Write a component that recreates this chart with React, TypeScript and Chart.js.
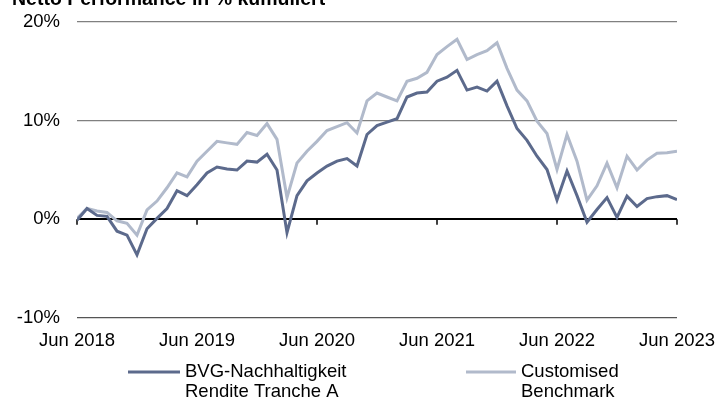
import React, { useEffect, useRef } from "react";
import { Chart, registerables } from "chart.js";

Chart.register(...registerables);

const titleText = "Netto Performance in % kumuliert";
const tickLabels = ["Jun 2018", "Jun 2019", "Jun 2020", "Jun 2021", "Jun 2022", "Jun 2023"];
const yTicks = [-10, 0, 10, 20];
const fundLabel = ["BVG-Nachhaltigkeit", "Rendite Tranche A"];
const benchLabel = ["Customised", "Benchmark"];

// monthly cumulative net performance in %, Jun 2018 .. Jun 2023
const fundReturns = [
  -0.1, 1.1, 0.4, 0.3, -1.2, -1.6, -3.6, -0.95, 0.1, 1.1, 2.9, 2.4,
  3.5, 4.7, 5.3, 5.1, 5.0, 5.9, 5.8, 6.6, 5.0, -1.35, 2.4, 3.9,
  4.7, 5.4, 5.9, 6.15, 5.4, 8.6, 9.5, 9.85, 10.2, 12.4, 12.8, 12.9,
  14.0, 14.4, 15.1, 13.1, 13.4, 13.0, 14.0, 11.5, 9.2, 8.0, 6.4, 5.05,
  1.95, 4.9, 2.4, -0.3, 1.0, 2.2, 0.2, 2.35, 1.3, 2.1, 2.3, 2.4,
  2.0,
];
const benchmarkReturns = [
  0.1, 1.1, 0.85, 0.7, -0.15, -0.4, -1.6, 0.95, 1.85, 3.2, 4.7, 4.3,
  5.9, 6.9, 7.9, 7.75, 7.6, 8.8, 8.5, 9.7, 8.1, 2.2, 5.7, 6.9,
  7.9, 9.0, 9.4, 9.8, 8.75, 12.0, 12.8, 12.4, 12.0, 14.0, 14.3, 14.9,
  16.7, 17.5, 18.25, 16.2, 16.7, 17.1, 17.9, 15.3, 13.1, 12.0, 9.95, 8.7,
  5.05, 8.6, 5.9, 1.95, 3.4, 5.7, 3.2, 6.4, 5.0, 6.0, 6.7, 6.75,
  6.9,
];

const FONT = '"Liberation Sans", Arial, sans-serif';
const DARK = "#5c6a8c";
const LIGHT = "#b1bacb";

const decorPlugin = {
  id: "decor",
  beforeDatasetsDraw(chart: any) {
    const { ctx, scales } = chart;
    const xs = scales.x;
    const y0 = scales.y.getPixelForValue(0);
    ctx.save();
    ctx.strokeStyle = "#000";
    ctx.lineWidth = 1.5;
    for (let i = 0; i < tickLabels.length; i++) {
      const px = xs.getPixelForValue(i * 12);
      ctx.beginPath();
      ctx.moveTo(px, y0);
      ctx.lineTo(px, y0 + 5.5);
      ctx.stroke();
    }
    ctx.restore();
  },
  afterDraw(chart: any) {
    const { ctx } = chart;
    ctx.save();
    // title
    ctx.fillStyle = "#000";
    ctx.font = `bold 19.5px ${FONT}`;
    ctx.textBaseline = "alphabetic";
    ctx.textAlign = "left";
    ctx.fillText(titleText, 12, 5);
    // legend
    const items = [
      { x0: 128, x1: 180, tx: 185, color: DARK, lines: fundLabel },
      { x0: 466, x1: 516, tx: 521, color: LIGHT, lines: benchLabel },
    ];
    ctx.font = `18.5px ${FONT}`;
    ctx.textBaseline = "middle";
    items.forEach((it) => {
      ctx.strokeStyle = it.color;
      ctx.lineWidth = 3;
      ctx.beginPath();
      ctx.moveTo(it.x0, 372);
      ctx.lineTo(it.x1, 372);
      ctx.stroke();
      ctx.fillStyle = "#000";
      it.lines.forEach((t, i) => ctx.fillText(t, it.tx, 372 + i * 20));
    });
    ctx.restore();
  },
};

export default function App() {
  const ref = useRef<HTMLCanvasElement>(null);
  useEffect(() => {
    document.body.style.margin = "0";
    const chart = new Chart(ref.current as HTMLCanvasElement, {
      type: "line",
      data: {
        datasets: [
          {
            label: fundLabel.join(" "),
            data: fundReturns.map((v, i) => ({ x: i, y: v })),
            borderColor: DARK,
            borderWidth: 3,
            pointRadius: 0,
            tension: 0,
            borderJoinStyle: "miter",
          },
          {
            label: benchLabel.join(" "),
            data: benchmarkReturns.map((v, i) => ({ x: i, y: v })),
            borderColor: LIGHT,
            borderWidth: 3,
            pointRadius: 0,
            tension: 0,
            borderJoinStyle: "miter",
          },
        ],
      },
      options: {
        animation: false,
        responsive: false,
        maintainAspectRatio: false,
        layout: { padding: { top: 22, left: 0, right: 0, bottom: 0 } },
        plugins: { legend: { display: false }, tooltip: { enabled: false }, title: { display: false } },
        scales: {
          x: {
            type: "linear",
            min: 0,
            max: 60,
            afterBuildTicks: (s: any) => {
              s.ticks = tickLabels.map((_, i) => ({ value: i * 12 }));
            },
            ticks: {
              autoSkip: false,
              maxRotation: 0,
              padding: 12,
              color: "#000",
              font: { family: FONT, size: 18.5 },
              callback: (v: any) => tickLabels[Math.round(v / 12)] ?? "",
            },
            grid: { display: false, drawTicks: false },
            border: { display: false },
            afterFit: (s: any) => {
              s.height = 82;
              s.paddingLeft = 0;
              s.paddingRight = 38;
            },
          },
          y: {
            min: -10,
            max: 20,
            afterBuildTicks: (s: any) => {
              s.ticks = yTicks.map((v) => ({ value: v }));
            },
            ticks: {
              padding: 17,
              color: "#000",
              font: { family: FONT, size: 18.5 },
              callback: (v: any) => `${v}%`,
            },
            grid: {
              drawTicks: false,
              color: (c: any) => (c.tick && c.tick.value === 0 ? "#000" : c.tick && c.tick.value === -10 ? "#555" : "#808080"),
              lineWidth: (c: any) => (c.tick && c.tick.value === 0 ? 2 : 1.3),
            },
            border: { display: false },
            afterFit: (s: any) => {
              s.width = 77;
              s.paddingTop = 0;
              s.paddingBottom = 0;
            },
          },
        },
      },
      plugins: [decorPlugin],
    });
    return () => chart.destroy();
  }, []);
  return (
    <div style={{ position: "absolute", left: 0, top: 0, width: 715, height: 400 }}>
      <canvas ref={ref} width={715} height={400} />
    </div>
  );
}
